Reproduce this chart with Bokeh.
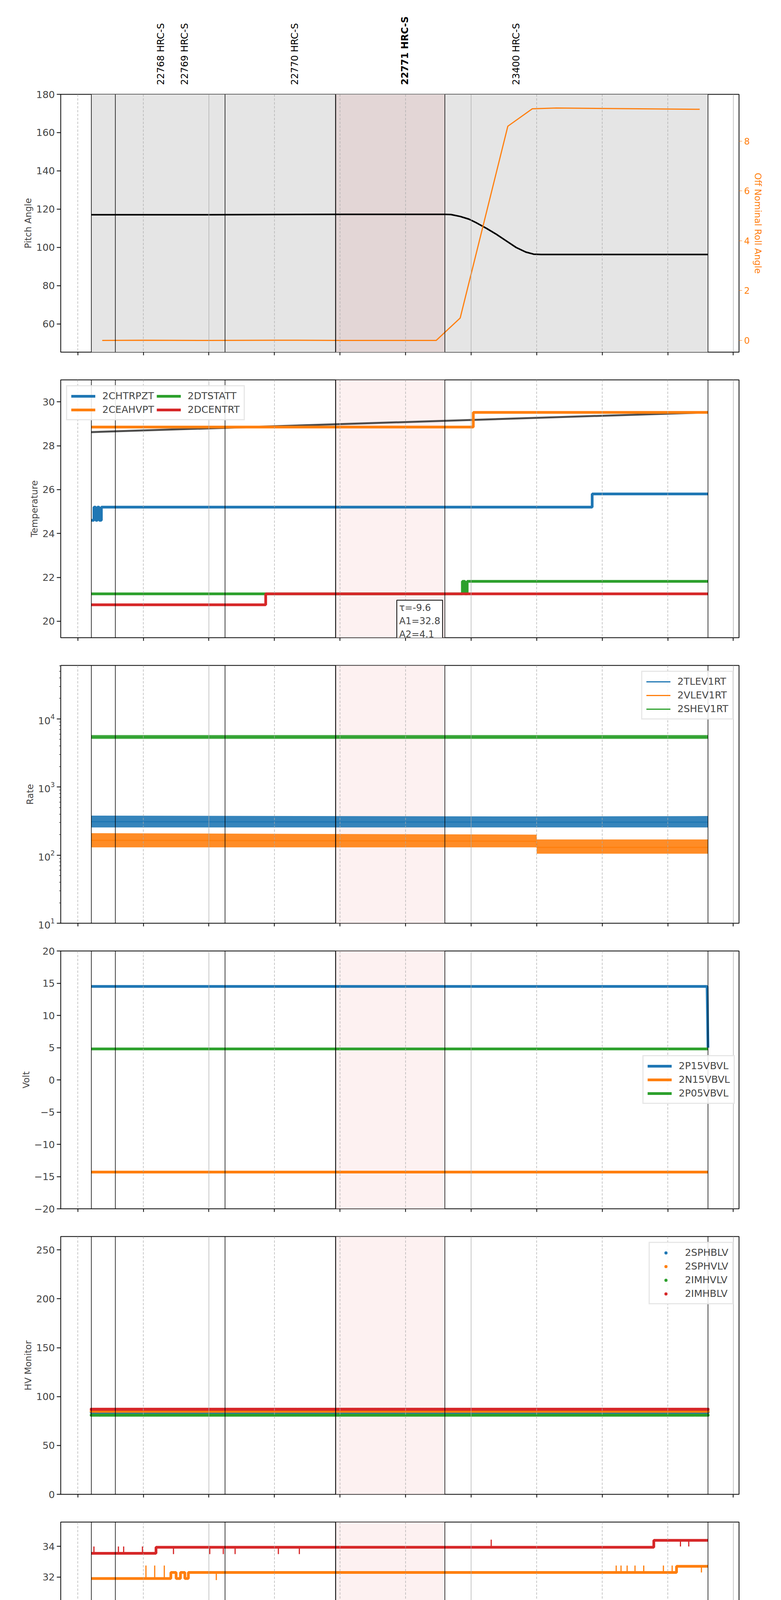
import numpy as np
from bokeh.plotting import figure
from bokeh.layouts import column
from bokeh.models import (Range1d, LinearAxis, FixedTicker, Span, BoxAnnotation, Label,
                          Legend, LegendItem)
from bokeh.core.properties import value
from bokeh.embed import file_html
from bokeh.resources import INLINE

# time in minutes relative to 2020-11-03 00:00
X0, X1 = -33.9, 121.3
T_START, T_END = -26.9, 114.2
obs_lines = [-26.9, -21.4, 3.7, 29.0, 54.0, 114.2]
obs_names = ["22768 HRC-S", "22769 HRC-S", "22770 HRC-S", "22771 HRC-S", "23400 HRC-S"]
obs_label_t = [-11.0, -5.5, 19.7, 44.9, 70.3]
hl_start, hl_end = 29.0, 54.0

# Panel 1
pitch_t = [-26.9, 0.0, 30.0, 54.0, 55.4, 57.5, 59.5, 61.1, 63.5, 65.7, 68.0, 70.3, 72.5, 74.3, 76.0, 114.2]
pitch_v = [117.1, 117.1, 117.3, 117.3, 117.2, 116.2, 114.8, 113.0, 110.0, 107.0, 103.5, 100.0, 97.6, 96.5, 96.3, 96.3]
roll_t = [-24.4, -15.0, 0.0, 15.0, 30.0, 52.0, 57.5, 68.4, 74.0, 79.5, 112.3]
roll_v = [0.0, 0.01, 0.0, 0.01, 0.0, 0.0, 0.9, 8.6, 9.30, 9.33, 9.28]

# Panel 2
t_black = [-26.9, 114.2]; v_black = [28.62, 29.52]
chtrpzt_t = [-26.9, -26.3, -25.9, -25.5, -25.1, -24.6, 87.7, 114.2]
chtrpzt_v = [24.6, 25.2, 24.6, 25.2, 24.6, 25.2, 25.8, 25.8]
ceahvpt_t = [-26.9, 60.5, 114.2]; ceahvpt_v = [28.85, 29.52, 29.52]
dtstatt_t = [-26.9, 58.0, 58.6, 59.1, 59.6, 114.2]; dtstatt_v = [21.25, 21.82, 21.25, 21.82, 21.82, 21.82]
dcentrt_t = [-26.9, 13.0, 13.5, 114.2]; dcentrt_v = [20.75, 21.25, 21.25, 21.25]

# Panel 3 (noisy bands: lower / centre / upper)
rate_t = [-26.9, 75.0, 75.01, 114.2]
tlev_lo = [255, 255, 255, 255]; tlev_mid = [310, 305, 305, 305]; tlev_hi = [380, 370, 370, 375]
vlev_lo = [130, 130, 105, 105]; vlev_mid = [165, 160, 130, 130]; vlev_hi = [210, 200, 170, 170]
shev_lo = [5100, 5100, 5100, 5100]; shev_mid = [5400, 5400, 5400, 5400]; shev_hi = [5800, 5800, 5800, 5800]

# Panel 4
p15_t = [-26.9, 114.0, 114.2]; p15_v = [14.5, 14.5, 5.0]
n15_t = [-26.9, 114.2]; n15_v = [-14.3, -14.3]
p05_t = [-26.9, 114.2]; p05_v = [4.8, 4.8]

# Panel 5
hv_t = list(np.linspace(-26.9, 114.2, 400))
sphblv_v = 84.0; sphvlv_v = 85.0; imhvlv_v = 81.0; imhblv_v = 87.0

# Panel 6
spinatm_t = [-26.9, 114.2]; spinatm_v = [20.3, 20.3]
iminatm_t = [-26.9, 7.3, 8.0, 8.8, 9.6, 10.4, 11.2, 11.9, 114.2]
iminatm_v = [21.0, 21.7, 21.0, 21.7, 21.0, 21.7, 21.0, 21.7, 21.7]
sphvatm_t = [-26.9, -8.7, -7.5, -6.5, -5.5, -4.7, 107.0, 114.2]
sphvatm_v = [31.9, 32.3, 31.9, 32.3, 31.9, 32.3, 32.7, 32.7]
sphvatm_spk_t = [-14.4, -12.4, -10.2, 1.7, 93.2, 94.3, 95.7, 97.5, 99.5, 104.0, 106.0, 112.7]
sphvatm_spk_v = [32.75, 32.75, 32.75, 31.8, 32.75, 32.75, 32.75, 32.75, 32.75, 32.75, 32.75, 32.3]
sphvatm_spk_b = [31.9, 31.9, 31.9, 32.3, 32.3, 32.3, 32.3, 32.3, 32.3, 32.3, 32.3, 32.7]
imhvatm_t = [-26.9, -12.1, 101.8, 114.2]; imhvatm_v = [33.55, 33.95, 34.4, 34.4]
imhvatm_spk_t = [-26.3, -20.7, -19.5, -15.2, -8.1, 0.2, 3.3, 6.0, 15.9, 20.7, 64.6, 107.9, 109.8]
imhvatm_spk_v = [34.0, 34.0, 34.0, 34.0, 33.5, 33.5, 33.5, 33.5, 33.5, 33.5, 34.45, 34.0, 34.0]
imhvatm_spk_b = [33.55, 33.55, 33.55, 33.55, 33.95, 33.95, 33.95, 33.95, 33.95, 33.95, 33.95, 34.4, 34.4]

# Panel 7
fepratm_t = [-26.9, 114.2]; fepratm_v = [25.4, 25.4]
fhtrmzt_t = [-26.9, 7.3, 7.8, 8.3, 8.8, 9.4, 100.7, 114.2]
fhtrmzt_v = [23.5, 24.05, 23.5, 24.05, 23.5, 24.05, 23.5, 23.5]
fhtrmzt_spk_t = [101.8]; fhtrmzt_spk_v = [24.0]; fhtrmzt_spk_b = [23.5]
fe00atm_t = [-26.9, 114.2]; fe00atm_v = [23.3, 23.3]
fe00_spk_t = [-18.2, 13.6, 15.3, 36.4, 37.8, 38.7, 47.0, 49.9, 55.2, 59.4, 60.3, 61.5, 63.9, 66.2, 91.6, 99.3, 101.8, 105.6,
              -11.2, -9.3, -6.4, 30.9, 76.0, 109.4]
fe00_spk_v = [23.65, 23.65, 23.65, 24.3, 23.95, 23.65, 23.65, 23.65, 23.65, 23.65, 23.65, 23.65, 23.65, 24.6, 23.65, 24.3, 23.95, 23.95,
              22.95, 22.65, 22.95, 22.95, 22.95, 22.65]
fradpyt_t = [-26.9, -16.1, -12.7, -12.2, 74.0, 114.2]
fradpyt_v = [18.65, 19.2, 18.65, 19.2, 18.65, 18.65]

C = ["#1f77b4", "#ff7f0e", "#2ca02c", "#d62728"]
TICKF = "DejaVu Sans"
LABF = "DejaVu Sans"
W = 1975
BT = 20
BB = 51
PH = 731
PH_LAST = 760

quarters = [-30, -15, 15, 30, 45, 75, 90, 105]
hours = [0, 60, 120]


def make_fig(yr, ylabel, log=False, last=False):
    kw = dict(y_axis_type="log") if log else {}
    bb = 80 if last else BB
    p = figure(width=W, height=PH_LAST if last else PH,
               x_range=Range1d(X0, X1), y_range=Range1d(*yr), output_backend="svg",
               toolbar_location=None, min_border_left=155, min_border_right=83,
               min_border_top=BT, min_border_bottom=bb, x_axis_location=None, **kw)
    p.outline_line_color = "black"
    p.outline_line_width = 2
    p.ygrid.visible = False
    p.xgrid.visible = False
    p.yaxis.axis_label = ylabel
    p.yaxis.axis_label_text_font = LABF
    p.yaxis.axis_label_text_font_style = "normal"
    p.yaxis.axis_label_text_font_size = "23px"
    p.yaxis.major_label_text_font = TICKF
    p.yaxis.major_label_text_font_size = "25px"
    p.yaxis.major_tick_out = 10
    p.yaxis.major_tick_in = 0
    p.yaxis.major_tick_line_width = 2
    p.yaxis.minor_tick_line_color = None if not log else "black"
    p.yaxis.axis_line_color = None
    for q in quarters:
        p.add_layout(Span(location=q, dimension="height", line_color="#aaaaaa", line_dash="6 4", line_width=1.3))
    for h in hours:
        p.add_layout(Span(location=h, dimension="height", line_color="#aaaaaa", line_width=1.3))
    for o in obs_lines:
        p.add_layout(Span(location=o, dimension="height", line_color="black", line_width=2.2 if o == 29.0 else 1.5))
    ax = LinearAxis(ticker=FixedTicker(ticks=quarters + hours))
    ax.major_tick_out = 8
    ax.major_tick_in = 0
    ax.major_tick_line_width = 2
    ax.minor_tick_line_color = None
    ax.axis_line_color = None
    ax.major_label_text_font = TICKF
    if last:
        ax.major_label_overrides = {-30: "30", -15: "45", 15: "15", 30: "30", 45: "45", 75: "15", 90: "30", 105: "45",
                                    0: "", 60: "", 120: ""}
        ax.major_label_text_font_size = "16px"
    else:
        ax.major_label_text_font_size = "0px"
        ax.major_label_text_color = None
    p.add_layout(ax, "below")
    if last:
        ax2 = LinearAxis(ticker=FixedTicker(ticks=hours))
        ax2.major_label_overrides = {0: "00h", 60: "01h", 120: "02h"}
        ax2.major_label_text_font = TICKF
        ax2.major_label_text_font_size = "25px"
        ax2.axis_line_color = None
        ax2.major_tick_line_color = None
        ax2.minor_tick_line_color = None
        ax2.major_label_standoff = 0
        ax2.axis_label = "2020-11-03 (308)"
        ax2.axis_label_text_font = TICKF
        ax2.axis_label_text_font_style = "normal"
        ax2.axis_label_text_font_size = "27px"
        ax2.axis_label_standoff = 4
        p.add_layout(ax2, "below")
    return p


def legend(p, items, loc, ncols=1):
    lg = Legend(items=items, location=loc, ncols=ncols, label_text_font=TICKF, label_text_font_size="25px",
                glyph_width=62, glyph_height=20, border_line_color="#d0d0d0", border_line_width=3,
                background_fill_alpha=0.85, padding=10, spacing=6, margin=14, label_standoff=18)
    p.add_layout(lg)


# header with observation labels
HH = 221
hdr = figure(width=W, height=HH, x_range=Range1d(X0, X1),
             y_range=Range1d(0, HH), output_backend="svg", toolbar_location=None,
             min_border_left=155, min_border_right=83, min_border_top=0, min_border_bottom=0)
hdr.axis.visible = False
hdr.grid.visible = False
hdr.outline_line_color = None
for n, t in zip(obs_names, obs_label_t):
    hdr.text(x=[t], y=[4], text=[n], angle=np.pi / 2, text_align="left", text_baseline="middle",
             text_font=value(LABF), text_font_size="24px",
             text_font_style="bold" if n.startswith("22771") else "normal", text_color="black")

# Panel 1
p1 = make_fig((45.3, 180), "Pitch Angle")
p1.add_layout(BoxAnnotation(left=T_START, right=T_END, fill_color="#e5e5e5", fill_alpha=1.0, level="underlay"))
p1.add_layout(BoxAnnotation(left=hl_start, right=hl_end, fill_color="#e3d6d6", fill_alpha=1.0, level="underlay"))
p1.yaxis.ticker = FixedTicker(ticks=[60, 80, 100, 120, 140, 160, 180])
p1.line(pitch_t, pitch_v, line_color="black", line_width=4)
p1.extra_y_ranges = {"roll": Range1d(-0.47, 9.88)}
p1.line(roll_t, roll_v, line_color=C[1], line_width=3, y_range_name="roll")
rax = LinearAxis(y_range_name="roll", ticker=FixedTicker(ticks=[0, 2, 4, 6, 8]), axis_label="Off Nominal Roll Angle")
rax.axis_label_text_color = C[1]
rax.axis_label_text_font = LABF
rax.axis_label_text_font_style = "normal"
rax.axis_label_text_font_size = "23px"
rax.major_label_text_color = C[1]
rax.major_label_text_font = TICKF
rax.major_label_text_font_size = "23px"
rax.major_tick_line_color = C[1]
rax.major_tick_out = 8
rax.major_tick_in = 0
rax.minor_tick_line_color = None
rax.axis_line_color = None
p1.add_layout(rax, "right")

figs = [p1]


def pink(p):
    p.add_layout(BoxAnnotation(left=hl_start, right=hl_end, fill_color="#fbe3e3", fill_alpha=0.5, level="underlay"))


# Panel 2
p2 = make_fig((19.25, 31.0), "Temperature")
pink(p2)
p2.yaxis.ticker = FixedTicker(ticks=[20, 22, 24, 26, 28, 30])
p2.line(t_black, v_black, line_color="#3a3a3a", line_width=5, alpha=0.9)
r_a = p2.step(chtrpzt_t, chtrpzt_v, mode="after", line_color=C[0], line_width=7)
r_b = p2.step(ceahvpt_t, ceahvpt_v, mode="after", line_color=C[1], line_width=7)
r_c = p2.step(dtstatt_t, dtstatt_v, mode="after", line_color=C[2], line_width=7)
r_d = p2.step(dcentrt_t, dcentrt_v, mode="after", line_color=C[3], line_width=7)
legend(p2, [LegendItem(label="2CHTRPZT", renderers=[r_a]), LegendItem(label="2CEAHVPT", renderers=[r_b]),
            LegendItem(label="2DTSTATT", renderers=[r_c]), LegendItem(label="2DCENTRT", renderers=[r_d])],
       "top_left", ncols=2)
p2.add_layout(Label(x=43.0, y=20.96, text="τ=-9.6\nA1=32.8\nA2=4.1", text_font=TICKF, text_font_size="24px",
                    text_baseline="top", background_fill_color="white", border_line_color="black",
                    border_line_width=2, padding=6))
figs.append(p2)

# Panel 3
p3 = make_fig((10, 61000), "Rate", log=True)
pink(p3)
rs = []
for lo, mid, hi, c in [(tlev_lo, tlev_mid, tlev_hi, C[0]), (vlev_lo, vlev_mid, vlev_hi, C[1]), (shev_lo, shev_mid, shev_hi, C[2])]:
    p3.varea(x=rate_t, y1=lo, y2=hi, fill_color=c, fill_alpha=0.9)
    rs.append(p3.line(rate_t, mid, line_color=c, line_width=3))
legend(p3, [LegendItem(label=n, renderers=[r]) for n, r in zip(["2TLEV1RT", "2VLEV1RT", "2SHEV1RT"], rs)], "top_right")
figs.append(p3)

# Panel 4
p4 = make_fig((-20, 20), "Volt")
pink(p4)
p4.yaxis.ticker = FixedTicker(ticks=list(range(-20, 21, 5)))
r1 = p4.line(p15_t, p15_v, line_color=C[0], line_width=7)
r2 = p4.line(n15_t, n15_v, line_color=C[1], line_width=7)
r3 = p4.line(p05_t, p05_v, line_color=C[2], line_width=7)
legend(p4, [LegendItem(label="2P15VBVL", renderers=[r1]), LegendItem(label="2N15VBVL", renderers=[r2]),
            LegendItem(label="2P05VBVL", renderers=[r3])], (1490, 268))
figs.append(p4)

# Panel 5
p5 = make_fig((0, 263.7), "HV Monitor")
pink(p5)
p5.yaxis.ticker = FixedTicker(ticks=[0, 50, 100, 150, 200, 250])
hr = []
for v, c in [(sphblv_v, C[0]), (sphvlv_v, C[1]), (imhvlv_v, C[2]), (imhblv_v, C[3])]:
    hr.append(p5.scatter(hv_t, [v] * len(hv_t), size=8, color=c, line_color=None))
legend(p5, [LegendItem(label=n, renderers=[r]) for n, r in zip(["2SPHBLV", "2SPHVLV", "2IMHVLV", "2IMHBLV"], hr)], "top_right")
figs.append(p5)

# Panel 6
p6 = make_fig((18.7, 35.6), "Detector Temp")
pink(p6)
p6.yaxis.ticker = FixedTicker(ticks=list(range(20, 36, 2)))
a = p6.line(spinatm_t, spinatm_v, line_color=C[0], line_width=7)
b = p6.step(sphvatm_t, sphvatm_v, mode="after", line_color=C[1], line_width=7)
p6.segment(x0=sphvatm_spk_t, y0=sphvatm_spk_b, x1=sphvatm_spk_t, y1=sphvatm_spk_v, line_color=C[1], line_width=3)
c = p6.step(iminatm_t, iminatm_v, mode="after", line_color=C[2], line_width=7)
d = p6.step(imhvatm_t, imhvatm_v, mode="after", line_color=C[3], line_width=7)
p6.segment(x0=imhvatm_spk_t, y0=imhvatm_spk_b, x1=imhvatm_spk_t, y1=imhvatm_spk_v, line_color=C[3], line_width=3)
legend(p6, [LegendItem(label=n, renderers=[r]) for n, r in zip(["2SPINATM", "2SPHVATM", "2IMINATM", "2IMHVATM"], [a, b, c, d])], "center_right")
figs.append(p6)

# Panel 7
p7 = make_fig((17.16, 26.88), "FEA Temp", last=True)
pink(p7)
p7.yaxis.ticker = FixedTicker(ticks=[18, 20, 22, 24, 26])
a = p7.step(fhtrmzt_t, fhtrmzt_v, mode="after", line_color=C[0], line_width=7)
p7.segment(x0=fhtrmzt_spk_t, y0=fhtrmzt_spk_b, x1=fhtrmzt_spk_t, y1=fhtrmzt_spk_v, line_color=C[0], line_width=3)
b = p7.step(fradpyt_t, fradpyt_v, mode="after", line_color=C[1], line_width=7)
c = p7.line(fepratm_t, fepratm_v, line_color=C[2], line_width=7)
d = p7.line(fe00atm_t, fe00atm_v, line_color=C[3], line_width=7)
p7.segment(x0=fe00_spk_t, y0=[23.3] * len(fe00_spk_t), x1=fe00_spk_t, y1=fe00_spk_v, line_color=C[3], line_width=3)
legend(p7, [LegendItem(label=n, renderers=[r]) for n, r in zip(["2FHTRMZT", "2FRADPYT", "2FEPRATM", "2FE00ATM"], [a, b, c, d])], "bottom_right")
figs.append(p7)

layout = column([hdr] + figs, spacing=0)
open("out.html", "w").write(file_html(layout, INLINE))
